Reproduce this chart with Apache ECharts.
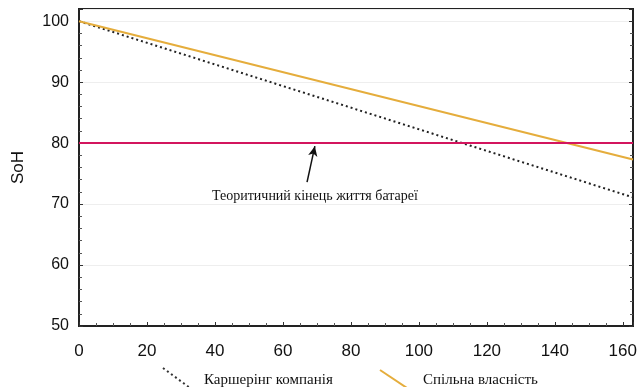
<!DOCTYPE html>
<html>
<head>
<meta charset="utf-8">
<script src="https://cdn.jsdelivr.net/npm/echarts@6/dist/echarts.min.js"></script>
<style>
  html, body { margin: 0; padding: 0; background: #fff; }
  #main { width: 640px; height: 387px; }
</style>
</head>
<body>
<div id="main"></div>
<script>
// дані
const xDays = [0, 163];
const carsharing = [100, 71.1];
const sharedOwnership = [100, 77.3];
const endOfLife = 80;
const seriesNames = ["Каршерінг компанія", "Спільна власність"];
const noteText = "Теоритичний кінець життя батареї";
const arrowFrom = [67.1, 73.6];
const arrowTo = [69.4, 79.5];

let chart = echarts.init(document.getElementById("main"));

const sansFont = "Liberation Sans, Arial, sans-serif";
const serifFont = "15px 'Liberation Serif', 'DejaVu Serif', serif";

let option = {
  animation: false,
  grid: {
    left: 79,
    right: 7,
    top: 9,
    bottom: 61,
    show: true,
    borderColor: "#222",
    borderWidth: 2,
  },
  xAxis: {
    type: "value",
    min: 0,
    max: 163,
    interval: 20,
    axisLine: { lineStyle: { color: "#222", width: 2 } },
    axisTick: { inside: true, length: 4, lineStyle: { color: "#333" } },
    minorTick: { show: true, splitNumber: 4, length: 3, lineStyle: { color: "#555" } },
    splitLine: { show: false },
    axisLabel: { margin: 17, showMaxLabel: false, color: "#111", fontSize: 17, fontFamily: sansFont },
  },
  yAxis: [
    {
      type: "value",
      min: 50,
      max: 102,
      interval: 10,
      name: "SoH",
      nameLocation: "middle",
      nameGap: 52,
      nameTextStyle: { color: "#111", fontSize: 17, fontFamily: sansFont },
      axisLine: { lineStyle: { color: "#222", width: 2 } },
      axisTick: { inside: true, length: 4, lineStyle: { color: "#333" } },
      minorTick: { show: true, splitNumber: 5, length: 3, lineStyle: { color: "#555" } },
      splitLine: { lineStyle: { color: "#eeeeee" } },
      axisLabel: { margin: 10, showMaxLabel: false, color: "#111", fontSize: 16, fontFamily: sansFont },
    },
    {
      type: "value",
      position: "right",
      min: 50,
      max: 102,
      interval: 10,
      axisLine: { show: true, lineStyle: { color: "#222", width: 2 } },
      axisTick: { inside: true, length: 4, lineStyle: { color: "#333" } },
      minorTick: { show: true, splitNumber: 5, length: 3, lineStyle: { color: "#555" } },
      splitLine: { show: false },
      axisLabel: { show: false },
    },
  ],
  series: [
    {
      name: seriesNames[0],
      type: "line",
      data: xDays.map((x, i) => [x, carsharing[i]]),
      symbol: "none",
      lineStyle: { color: "#222", width: 2, type: [2, 3] },
      z: 3,
    },
    {
      name: seriesNames[1],
      type: "line",
      data: xDays.map((x, i) => [x, sharedOwnership[i]]),
      symbol: "none",
      lineStyle: { color: "#e5ad3c", width: 2 },
      z: 4,
      markLine: {
        silent: true,
        symbol: "none",
        label: { show: false },
        data: [
          { yAxis: endOfLife, lineStyle: { color: "#d3155e", width: 2, type: "solid" } },
          [
            { coord: arrowFrom, symbol: "none" },
            { coord: arrowTo, symbol: "arrow", symbolSize: [7, 10] },
          ],
        ],
        lineStyle: { color: "#111", width: 1.5, type: "solid" },
      },
    },
  ],
  graphic: [
    {
      type: "text",
      left: 212,
      top: 189,
      style: { text: noteText, fill: "#111", font: "14px 'Liberation Serif', 'DejaVu Serif', serif" },
    },
    {
      type: "line",
      shape: { x1: 163, y1: 368, x2: 190, y2: 388 },
      style: { stroke: "#333", lineWidth: 2, lineDash: [2, 3] },
    },
    {
      type: "text",
      left: 204,
      top: 373,
      style: { text: seriesNames[0], fill: "#111", font: serifFont },
    },
    {
      type: "line",
      shape: { x1: 380, y1: 370, x2: 407, y2: 388 },
      style: { stroke: "#e5ad3c", lineWidth: 2 },
    },
    {
      type: "text",
      left: 423,
      top: 373,
      style: { text: seriesNames[1], fill: "#111", font: serifFont },
    },
  ],
};

chart.setOption(option);
</script>
</body>
</html>
